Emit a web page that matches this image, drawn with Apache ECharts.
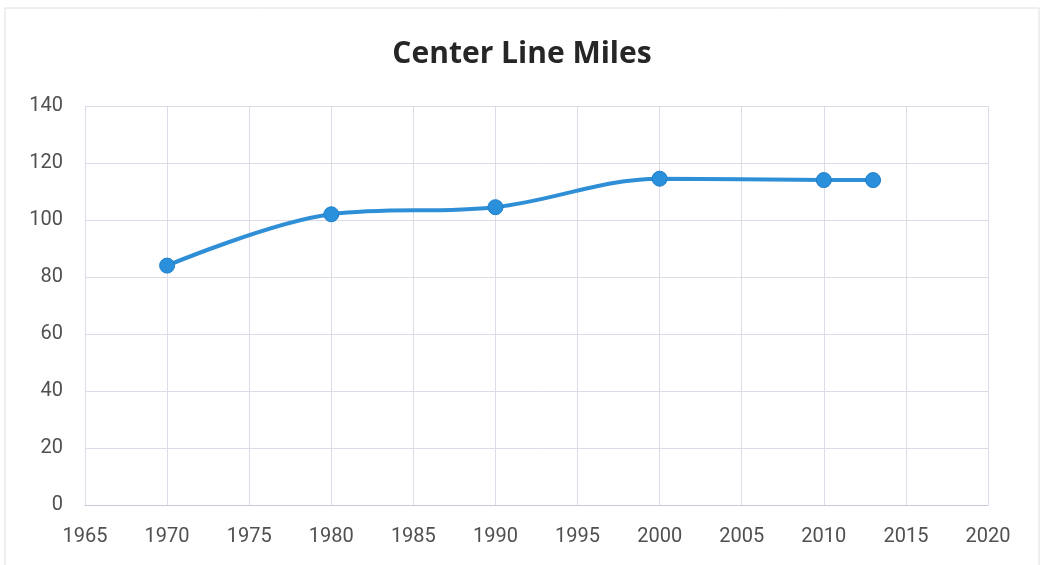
<!DOCTYPE html>
<html>
<head>
<meta charset="utf-8">
<script src="https://cdn.jsdelivr.net/npm/echarts@6/dist/echarts.min.js"></script>
<style>
  html, body { margin: 0; padding: 0; background: #fff; }
  #chart { width: 1044px; height: 565px; }
</style>
</head>
<body>
<div id="chart"></div>
<script>
// values
var years = [1970, 1980, 1990, 2000, 2010, 2013];
var miles = [84, 102, 104.5, 114.5, 114, 114];

var chart = echarts.init(document.getElementById('chart'));

var pts = years.map(function (y, i) { return [y, miles[i]]; });

var option = {
  backgroundColor: '#fff',
  title: {
    text: 'Center Line Miles',
    left: 'center',
    top: 34,
    textStyle: {
      fontFamily: 'Open Sans',
      fontWeight: 'bold',
      fontSize: 30,
      color: '#262626'
    }
  },
  grid: { left: 85, right: 56, top: 106, bottom: 60 },
  xAxis: {
    type: 'value',
    min: 1965,
    max: 2020,
    interval: 5,
    axisLine: { show: true, lineStyle: { color: '#c8c8d8' } },
    axisTick: { show: false },
    axisLabel: {
      margin: 22,
      fontFamily: 'Roboto',
      fontSize: 20,
      color: '#505050',
      formatter: function (v) { return String(v); }
    },
    splitLine: { show: true, lineStyle: { color: '#dcdce8', width: 1 } }
  },
  yAxis: {
    type: 'value',
    min: 0,
    max: 140,
    interval: 20,
    axisLine: { show: false },
    axisTick: { show: false },
    axisLabel: {
      margin: 22,
      fontFamily: 'Roboto',
      fontSize: 20,
      color: '#505050'
    },
    splitLine: { show: true, lineStyle: { color: '#dcdce8', width: 1 } }
  },
  series: [{
    type: 'line',
    data: pts,
    smooth: 0.35,
    symbol: 'circle',
    symbolSize: 15,
    lineStyle: { color: '#2f8fd6', width: 4 },
    itemStyle: { color: '#2a90dc', borderColor: '#1f7fc8', borderWidth: 1 }
  }],
  graphic: [{
    type: 'rect',
    shape: { x: 5, y: 8, width: 1034, height: 560 },
    style: { fill: 'none', stroke: '#dedede', lineWidth: 1 },
    silent: true
  }]
};

chart.setOption(option);
</script>
</body>
</html>
